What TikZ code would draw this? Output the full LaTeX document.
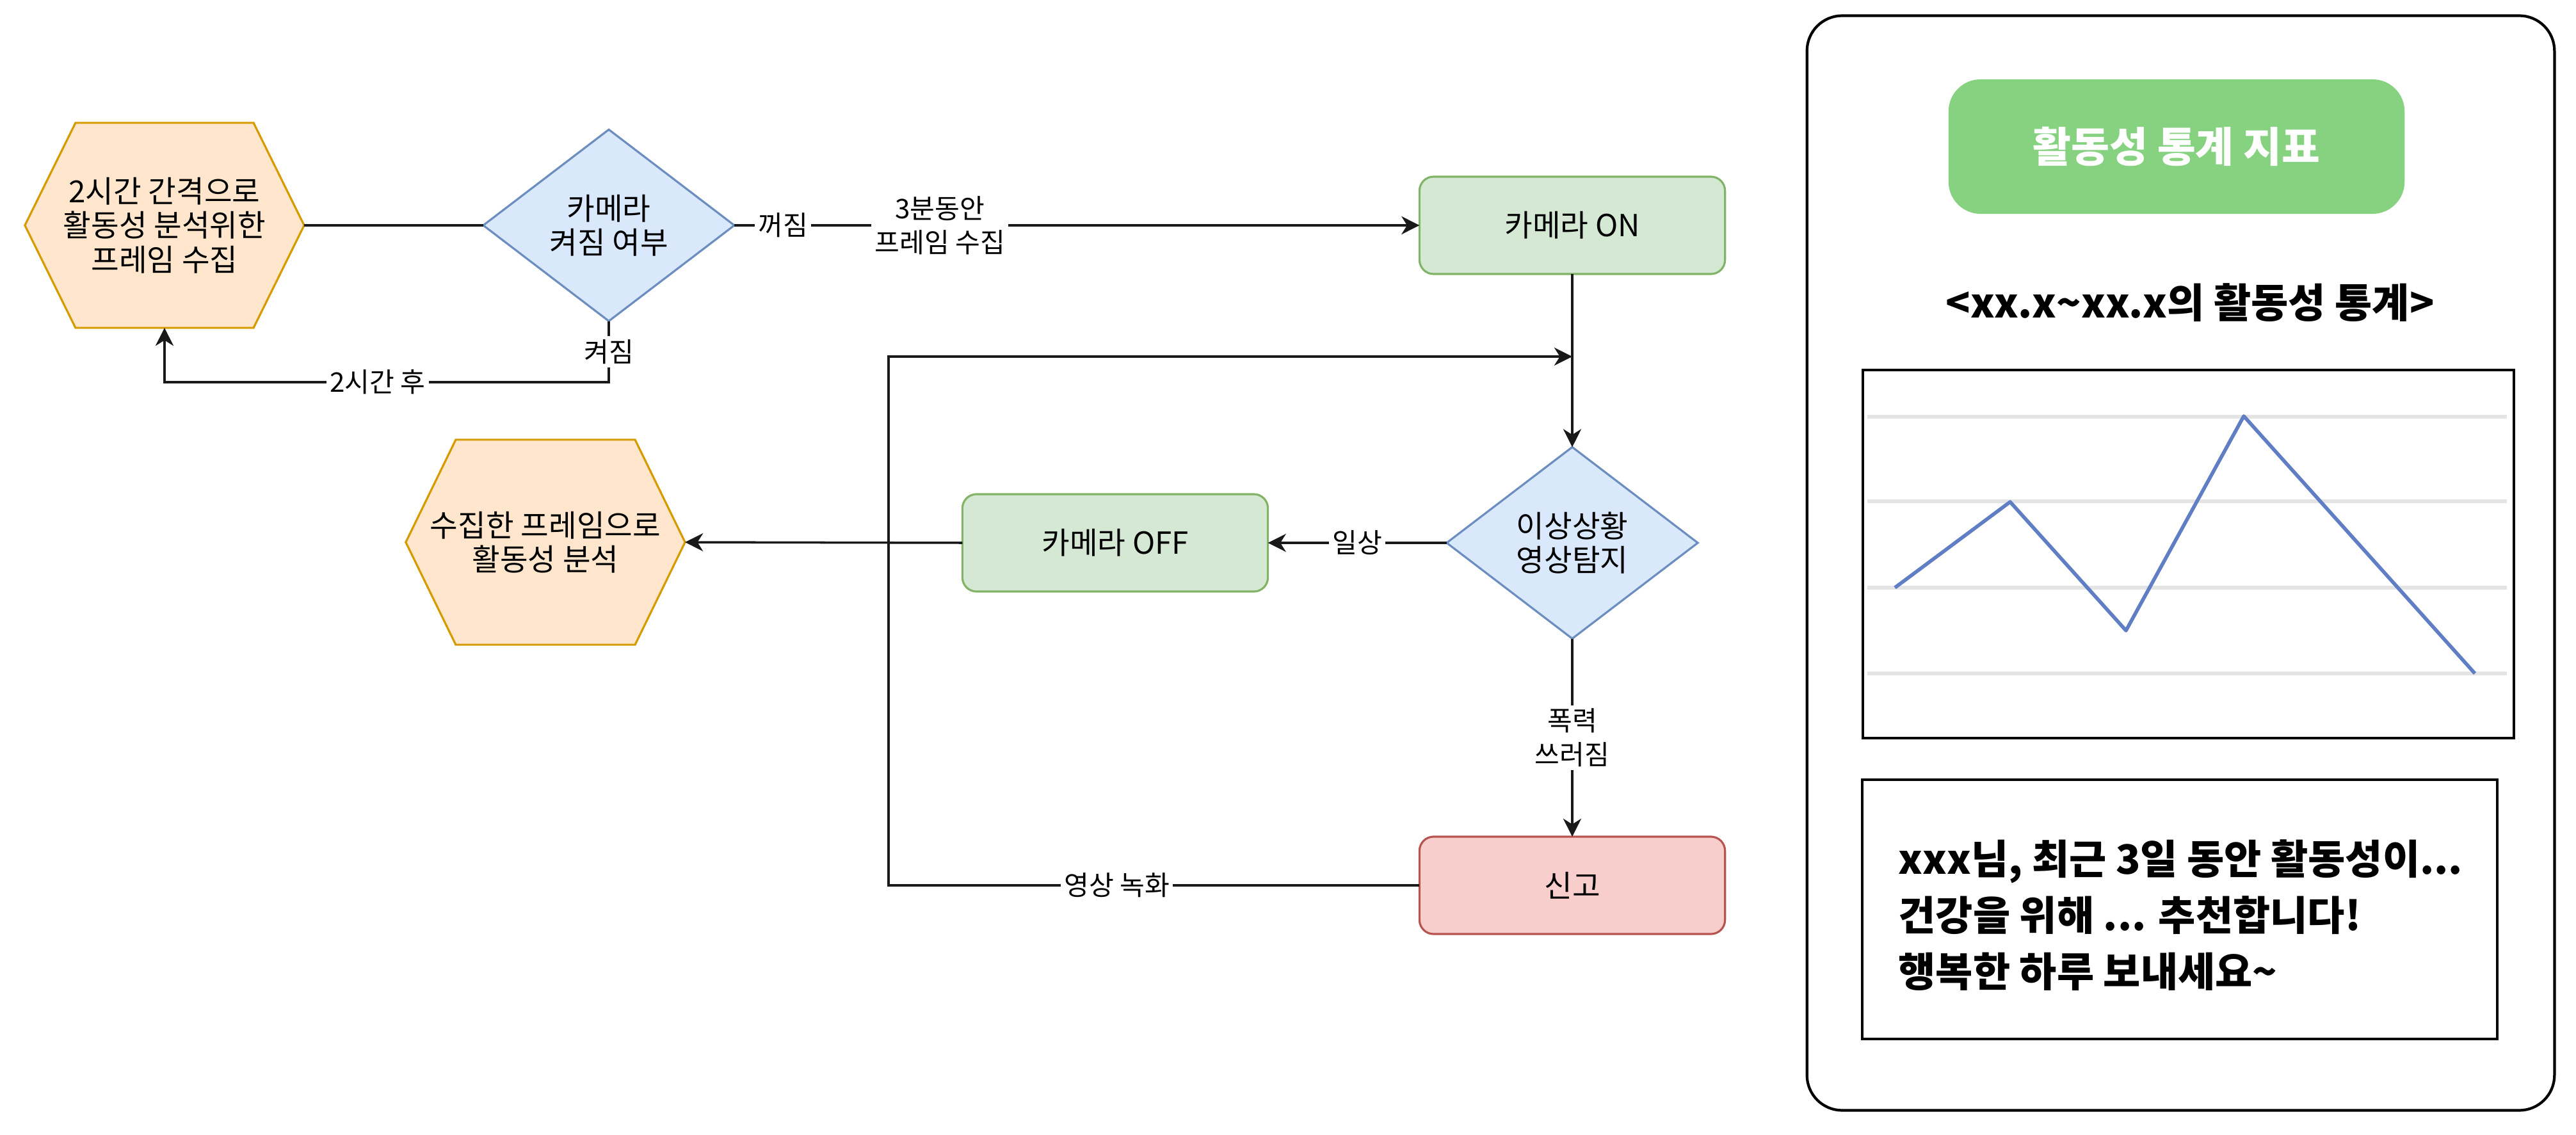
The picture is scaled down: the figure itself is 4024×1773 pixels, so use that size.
\documentclass[tikz,border=0pt]{standalone}
\usepackage{fontspec}
\setmainfont{Noto Sans CJK KR}
\usetikzlibrary{arrows.meta,shapes.geometric,backgrounds}

\definecolor{hexfill}{HTML}{FFE6CC}
\definecolor{hexdraw}{HTML}{D79B00}
\definecolor{decfill}{HTML}{DAE8FC}
\definecolor{decdraw}{HTML}{6C8EBF}
\definecolor{okfill}{HTML}{D5E8D4}
\definecolor{okdraw}{HTML}{82B366}
\definecolor{alertfill}{HTML}{F8CECC}
\definecolor{alertdraw}{HTML}{B85450}
\definecolor{btngreen}{RGB}{134,210,128}
\definecolor{gridgray}{RGB}{228,228,228}
\definecolor{plotblue}{RGB}{95,126,196}

\tikzset{
  base/.style={font=\fontsize{13.5}{15.2}\selectfont, align=center, text=black, outer sep=0pt},
  hexnode/.style={base, rectangle, minimum width=4.36cm, minimum height=3.2cm, inner sep=0pt},
  hexline/.style={fill=hexfill, draw=hexdraw, line width=0.9pt},
  decision/.style={base, diamond, fill=decfill, draw=decdraw, line width=0.9pt,
    inner sep=0pt, minimum width=3.92cm, minimum height=2.99cm},
  procbox/.style={base, rectangle, rounded corners=0.22cm, minimum width=4.77cm,
    minimum height=1.52cm, line width=0.9pt},
  okbox/.style={procbox, fill=okfill, draw=okdraw},
  alertbox/.style={procbox, fill=alertfill, draw=alertdraw},
  conn/.style={line width=1pt, draw=black!90},
  arr/.style={conn, -{Stealth[length=8pt,width=8pt,inset=2.5pt]}},
  lbl/.style={fill=white, inner sep=1.5pt, font=\fontsize{12}{15}\selectfont,
    align=center, text=black},
  panelbox/.style={draw=black, line width=1.2pt, rounded corners=0.55cm,
    minimum width=11.67cm, minimum height=17.09cm, outer sep=0pt},
  btn/.style={fill=btngreen, rounded corners=0.5cm, minimum width=7.12cm,
    minimum height=2.1cm, text=white, font=\fontsize{18.5}{21}\selectfont\bfseries},
  heading/.style={font=\fontsize{18}{21}\selectfont\bfseries, text=black, inner sep=0pt},
  framebox/.style={draw=black, line width=1.2pt, outer sep=0pt},
  msgtext/.style={font=\fontsize{18}{25}\selectfont\bfseries, align=left, inner sep=0pt, text=black},
}

% hexagon outline around a rectangular text node
\newcommand{\hexoutline}[2]{%
  \draw[hexline] (#1.west) -- ([xshift=#2]#1.north west) -- ([xshift=-#2]#1.north east)
    -- (#1.east) -- ([xshift=-#2]#1.south east) -- ([xshift=#2]#1.south west) -- cycle;}

\begin{document}
\begin{tikzpicture}[x=0.01cm, y=-0.01cm]
\useasboundingbox (0,0) rectangle (4024,1773);

% ---------------- flowchart ----------------
\node[hexnode] (h1) at (257,352) {2시간 간격으로\\활동성 분석위한\\프레임 수집};
\node[hexnode] (h2) at (852,847) {수집한 프레임으로\\활동성 분석};
\begin{scope}[on background layer]
  \hexoutline{h1}{0.79cm}
  \hexoutline{h2}{0.78cm}
\end{scope}

\node[decision] (d1) at (951,352) {카메라\\켜짐 여부};
\node[okbox] (on) at (2456,352) {카메라 ON};
\node[decision] (d2) at (2456,848) {이상상황\\영상탐지};
\node[okbox] (off) at (1742,848) {카메라 OFF};
\node[alertbox] (rep) at (2456,1383) {신고};

\coordinate (back) at (0,597);
\coordinate (loop) at (1388,557);

\draw[conn] (h1.east) -- (d1.west);
\draw[arr] (d1.east) -- node[lbl,pos=0.071]{꺼짐}
  node[lbl,pos=0.30]{3분동안\\프레임 수집} (on.west);
\draw[arr] (d1.south) -- node[lbl]{켜짐} (d1.south |- back)
  -- node[lbl,pos=0.52]{2시간 후} (h1.south |- back) -- (h1.south);
\draw[arr] (on.south) -- (d2.north);
\draw[arr] (d2.west) -- node[lbl]{일상} (off.east);
\draw[arr] (off.west) -- (h2.east);
\draw[arr] (d2.south) -- node[lbl]{폭력\\쓰러짐} (rep.north);
\draw[arr] (rep.west) -- node[lbl,pos=0.57]{영상 녹화} (rep.west -| loop)
  -- (loop) -- (loop -| on.south);

% ---------------- statistics panel ----------------
\node[panelbox] (panel) at (3406.5,879.5) {};
\node[btn] (btn) at (3400,229) {활동성 통계 지표};
\node[heading] (ttl) at (3421,473) {<xx.x\textasciitilde xx.x의 활동성 통계>};

\node[framebox, minimum width=10.17cm, minimum height=5.75cm] (chart) at (3418.5,865.5) {};
\foreach \gy in {651,783,918,1052}
  \draw[gridgray, line width=1.5pt] (2917,\gy) -- (3916,\gy);
\draw[plotblue, line width=1.6pt, line join=round]
  (2960,918) -- (3140,784) -- (3321,985) -- (3505,650) -- (3866,1052);

\node[framebox, minimum width=9.92cm, minimum height=4.05cm] (msg) at (3405,1420.5) {};
\node[msgtext, anchor=west] (msgtxt) at (2965,1430)
  {xxx님, 최근 3일 동안 활동성이...\\건강을 위해 ... 추천합니다!\\행복한 하루 보내세요\textasciitilde};
\end{tikzpicture}
\end{document}
